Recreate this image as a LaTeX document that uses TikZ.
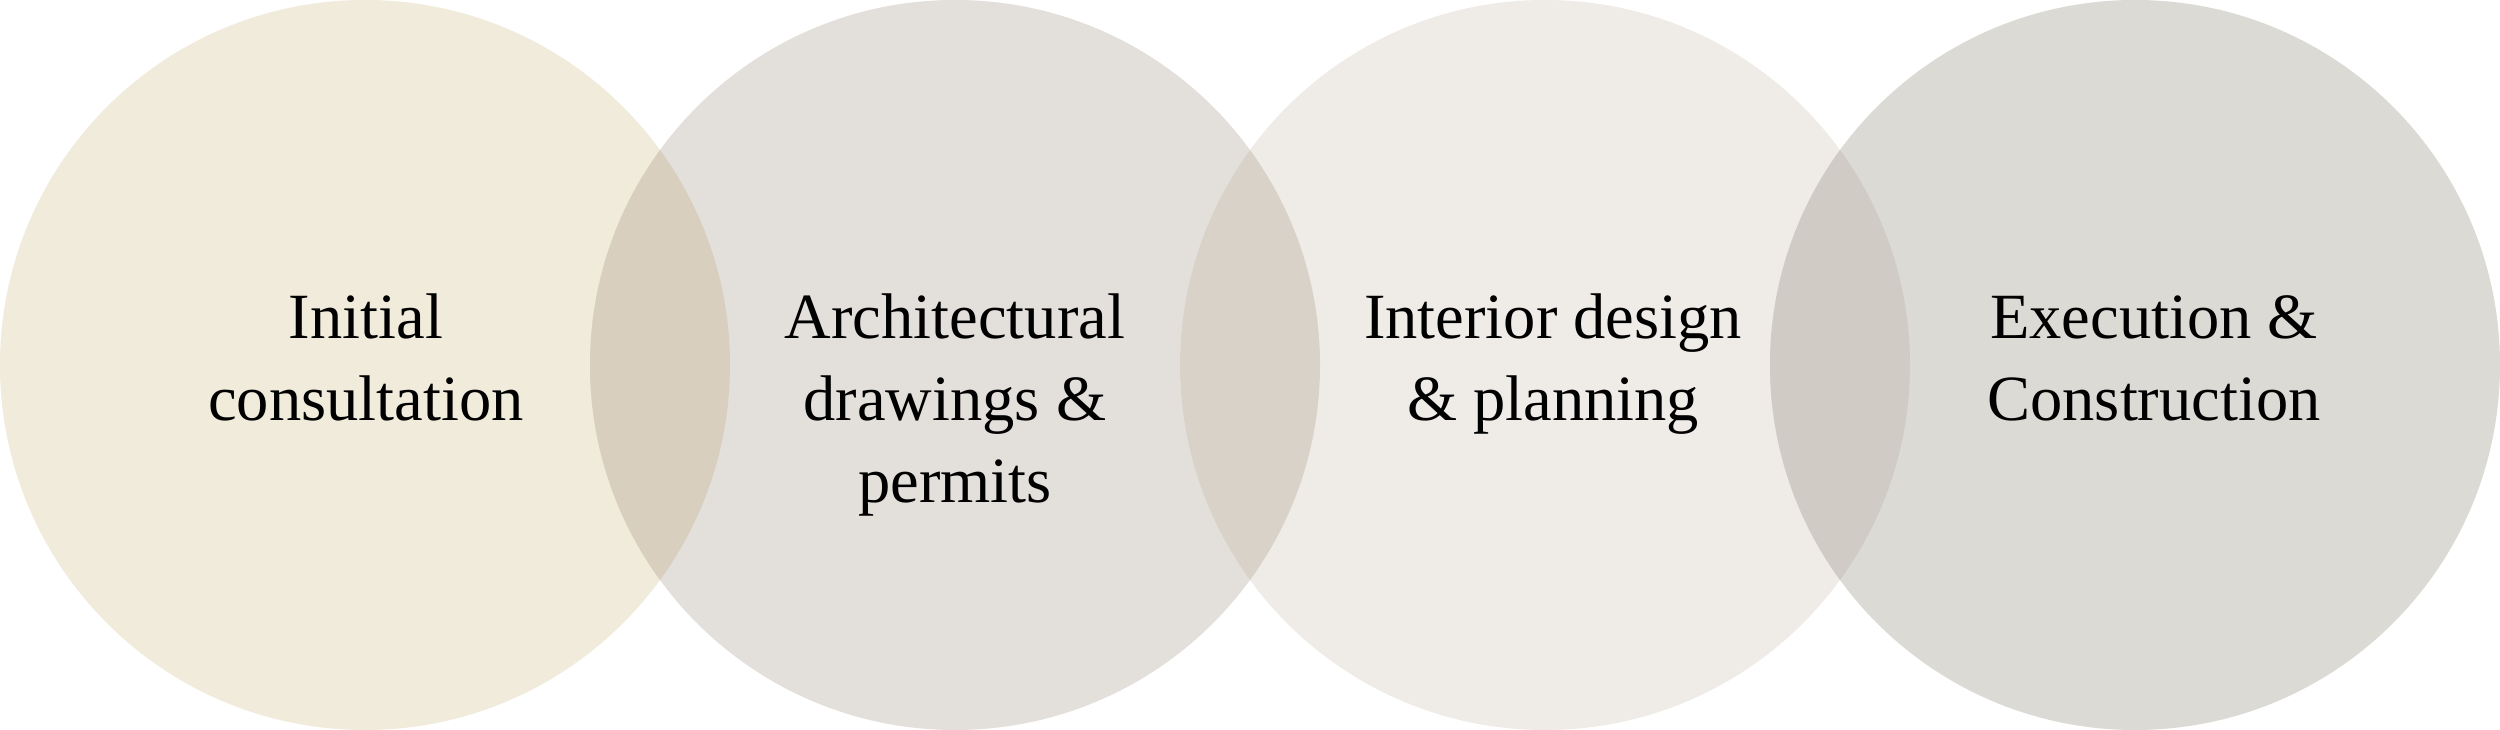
\documentclass[tikz,border=0pt]{standalone}
\usepackage{fontspec}
\setmainfont{Liberation Serif}
\definecolor{cA}{HTML}{F0EBDA}
\definecolor{cB}{HTML}{E3DFDB}
\definecolor{cC}{HTML}{EFECE7}
\definecolor{cD}{HTML}{DBDAD4}
\definecolor{oAB}{HTML}{D8CFBF}
\definecolor{oBC}{HTML}{D9D2C8}
\definecolor{oCD}{HTML}{D0CCC5}
\newcommand{\steplbl}[1]{\vtop{\halign{\hfil##\hfil\cr#1\cr}}}
\tikzset{
  stage/.style={circle, inner sep=0pt, minimum size=730pt, draw=none},
  stagetext/.style={anchor=base, inner sep=0pt, text=black,
    font=\fontsize{64.5}{82}\selectfont}
}
\begin{document}
\begin{tikzpicture}[x=1pt,y=1pt]
\useasboundingbox (0,0) rectangle (2500,730);
\fill[white] (0,0) rectangle (2500,730);
% circles
\node[stage, fill=cA] (c1) at (365,365) {};
\node[stage, fill=cB] (c2) at (955,365) {};
\node[stage, fill=cC] (c3) at (1545,365) {};
\node[stage, fill=cD] (c4) at (2135,365) {};
% overlaps
\begin{scope}
  \clip (365,365) circle (365);
  \fill[oAB] (955,365) circle (365);
\end{scope}
\begin{scope}
  \clip (955,365) circle (365);
  \fill[oBC] (1545,365) circle (365);
\end{scope}
\begin{scope}
  \clip (1545,365) circle (365);
  \fill[oCD] (2135,365) circle (365);
\end{scope}
% labels
\node[stagetext] (t1) at (366,391) {\steplbl{Initial\cr consultation}};
\node[stagetext] (t2) at (955,391) {\steplbl{Architectural\cr drawings \&\cr permits}};
\node[stagetext] (t3) at (1553,391) {\steplbl{Interior design\cr \& planning}};
\node[stagetext] (t4) at (2154,391) {\steplbl{Execution \&\cr Construction}};
\end{tikzpicture}
\end{document}
